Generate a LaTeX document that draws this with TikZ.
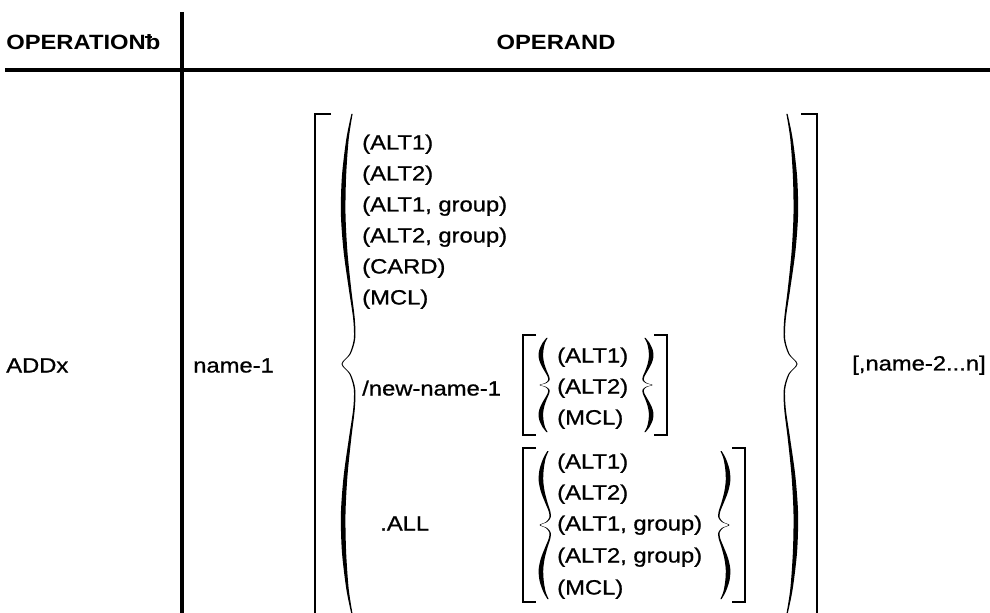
\documentclass[tikz,border=0pt]{standalone}
\usepackage{fontspec}
\setmainfont{Liberation Sans}[FakeStretch=1.15,UprightFeatures={FakeBold=0.9}]
\usetikzlibrary{calc}

% "b" with a bar through the ascender (blank symbol)
\newcommand\blankb{\makebox[0pt][l]{\hspace{-0.06em}\rule[0.56em]{0.34em}{0.1em}}b}

% Tall curly brace drawn as a filled shape of varying thickness.
% #1 tip x, #2 top y, #3 bottom y, #4 bulge scale, #5 side (1 = cusp to the left, -1 = cusp to the right)
\newcommand\tallbrace[5]{%
  \gdef\brA{}\gdef\brB{}%
  \foreach \u/\dv/\w in {0/0/0.6, 0.1/4.5/1.2, 0.25/8/2.1, 0.4/8.8/2.3, 0.55/6.5/1.9,
                         0.7/2/1.2, 0.82/-2/0.8, 0.9/-2.5/0.7, 0.96/2/0.6, 1/10/0.5}{%
    \pgfmathsetmacro\yy{#2+\u*(#3-#2)/2}%
    \pgfmathsetmacro\xa{#1-#5*#4*\dv-\w}%
    \pgfmathsetmacro\xb{#1-#5*#4*\dv+\w}%
    \xdef\brA{\brA(\xa,\yy)}%
    \xdef\brB{(\xb,\yy)\brB}%
  }%
  \foreach \u/\dv/\w in {0.96/2/0.6, 0.9/-2.5/0.7, 0.82/-2/0.8, 0.7/2/1.2, 0.55/6.5/1.9,
                         0.4/8.8/2.3, 0.25/8/2.1, 0.1/4.5/1.2, 0/0/0.6}{%
    \pgfmathsetmacro\yy{#3-\u*(#3-#2)/2}%
    \pgfmathsetmacro\xa{#1-#5*#4*\dv-\w}%
    \pgfmathsetmacro\xb{#1-#5*#4*\dv+\w}%
    \xdef\brA{\brA(\xa,\yy)}%
    \xdef\brB{(\xb,\yy)\brB}%
  }%
  \xdef\brcmd{\noexpand\fill[black] plot[smooth,tension=0.5] coordinates {\brA}
     -- plot[smooth,tension=0.5] coordinates {\brB} -- cycle;}%
  \brcmd
}

\begin{document}
\begin{tikzpicture}[x=0.75pt,y=-0.75pt,
  sepline/.style={line width=2.3pt},
  bracketline/.style={line width=2.1pt,line cap=butt,line join=miter},
  txt/.style={anchor=base west,inner sep=0pt,font=\fontsize{15.5}{18}\selectfont},
  hdr/.style={inner sep=0pt,font=\fontsize{15.5}{18}\selectfont\bfseries}]
\useasboundingbox (0,0) rectangle (990,613);

% table frame
\draw[sepline] (5,70) -- (990,70);
\draw[sepline] (182,12) -- (182,613);

% header
\node[hdr,anchor=base west] (hop) at (6,50) {OPERATION\blankb};
\node[hdr,anchor=base] (hoperand) at (556,50) {OPERAND};

% operation and first operand
\node[txt] (addx) at (6,372.5) {ADDx};
\node[txt] (name1) at (193,372.5) {name-1};

% outer bracket and brace
\draw[bracketline] (331,114) -- (315,114) -- (315,616);
\tallbrace{352}{114}{614}{1}{1}
\tallbrace{787}{114}{614}{1}{-1}
\draw[bracketline] (801,114) -- (817,114) -- (817,616);

% device alternatives
\node[txt] (a1) at (362,149.5) {(ALT1)};
\node[txt] (a2) at (362,180.5) {(ALT2)};
\node[txt] (a3) at (362,211.5) {(ALT1, group)};
\node[txt] (a4) at (362,242.5) {(ALT2, group)};
\node[txt] (a5) at (362,273.5) {(CARD)};
\node[txt] (a6) at (362,304.5) {(MCL)};

% new name with its options
\node[txt] (newname) at (362,395.5) {/new-name-1};
\draw[bracketline] (536,335) -- (523,335) -- (523,435) -- (536,435);
\tallbrace{547}{338}{432}{0.7}{1}
\node[txt] (n1) at (557,362.5) {(ALT1)};
\node[txt] (n2) at (557,393.5) {(ALT2)};
\node[txt] (n3) at (557,424.5) {(MCL)};
\tallbrace{645}{338}{432}{0.7}{-1}
\draw[bracketline] (654,335) -- (667,335) -- (667,435) -- (654,435);

% .ALL with its options
\node[txt] (all) at (380,530.5) {.ALL};
\draw[bracketline] (536,448) -- (523,448) -- (523,602) -- (536,602);
\tallbrace{548}{451}{599}{0.8}{1}
\node[txt] (b1) at (557,468.5) {(ALT1)};
\node[txt] (b2) at (557,499.5) {(ALT2)};
\node[txt] (b3) at (557,530.5) {(ALT1, group)};
\node[txt] (b4) at (557,562.5) {(ALT2, group)};
\node[txt] (b5) at (557,594.5) {(MCL)};
\tallbrace{721}{451}{599}{0.8}{-1}
\draw[bracketline] (732,448) -- (745,448) -- (745,602) -- (732,602);

% further names
\node[txt] (name2) at (852,370.5) {[,name-2...n]};
\end{tikzpicture}
\end{document}
